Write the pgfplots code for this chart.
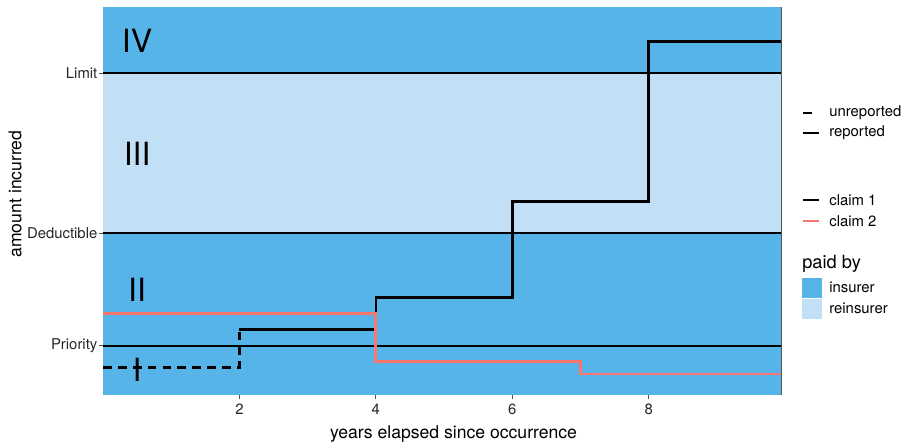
\documentclass[border=0pt]{standalone}
\usepackage{pgfplots}
\pgfplotsset{compat=1.18}
\usepackage{fontspec}
\setmainfont{TeX Gyre Heros}
\definecolor{insurer}{HTML}{56B4E9}
\definecolor{reinsurer}{HTML}{C2E0F5}
\definecolor{claimtwo}{HTML}{F8766D}
\definecolor{framegray}{HTML}{555555}
\definecolor{ticktext}{HTML}{262626}
\begin{document}
\begin{tikzpicture}
\path[use as bounding box] (0pt,0pt) rectangle (563.75pt,278.75pt);
\begin{axis}[
  at={(64.375pt,32.1875pt)}, anchor=south west,
  scale only axis, width=423.75pt, height=241.9pt,
  xmin=0, xmax=9.94, ymin=0, ymax=387,
  axis line style={framegray, line width=0.6pt},
  xtick={2,4,6,8},
  ytick={48.8,161.2,321.2},
  yticklabels={Priority,Deductible,Limit},
  tick align=outside, tick pos=left,
  major tick length=2.6pt,
  tick style={framegray, line width=0.6pt},
  ticklabel style={font=\fontsize{9.3}{11}\selectfont, text=ticktext},
  yticklabel style={xshift=2.6pt},
  /pgf/number format/assume math mode=true,
  clip=true,
]
% background bands
\addplot[fill=insurer, draw=none] coordinates {(0,0) (9.94,0) (9.94,387) (0,387)} -- cycle;
\addplot[fill=reinsurer, draw=none] coordinates {(0,161.2) (9.94,161.2) (9.94,321.2) (0,321.2)} -- cycle;
% reference lines
\addplot[black, line width=1.3pt] coordinates {(0,48.8) (9.94,48.8)};
\addplot[black, line width=1.3pt] coordinates {(0,161.2) (9.94,161.2)};
\addplot[black, line width=1.3pt] coordinates {(0,321.2) (9.94,321.2)};
% claim 1 unreported
\addplot[black, line width=1.6pt, const plot, dash pattern=on 5.5pt off 3.8pt] coordinates {(0,26.8) (2,65.2)};
% claim 1 reported
\addplot[black, line width=1.6pt, const plot] coordinates {(2,65.2) (4,97.2) (6,192.8) (8,352.8) (9.94,352.8)};
% claim 2 reported
\addplot[claimtwo, line width=1.8pt, const plot] coordinates {(0,81.2) (4,32.8) (7,20.5) (9.94,20.5)};
% layer labels
\node[font=\fontsize{20}{24}\selectfont] at (axis cs:0.5,24.4) {I};
\node[font=\fontsize{20}{24}\selectfont] at (axis cs:0.5,105) {II};
\node[font=\fontsize{20}{24}\selectfont] at (axis cs:0.5,241) {III};
\node[font=\fontsize{20}{24}\selectfont] at (axis cs:0.5,354) {IV};
\end{axis}
% titles and legend (pixel coordinates from top-left)
\begin{scope}[shift={(0pt,278.75pt)}, x=0.625pt, y=-0.625pt, font=\fontsize{9.3}{11}\selectfont]
\node[font=\fontsize{11}{13}\selectfont, inner sep=0pt] at (453.5,434) {years elapsed since occurrence};
\node[font=\fontsize{11}{13}\selectfont, inner sep=0pt, rotate=90] at (15,194) {amount incurred};
\draw[black, line width=1.6pt] (803,113) -- (812,113);
\node[anchor=west, inner sep=0pt] at (829,113) {unreported};
\draw[black, line width=1.6pt] (803,133) -- (819,133);
\node[anchor=west, inner sep=0pt] at (829,133) {reported};
\draw[black, line width=1.6pt] (803,200) -- (819,200);
\node[anchor=west, inner sep=0pt] at (829,200) {claim 1};
\draw[claimtwo, line width=1.8pt] (803,221) -- (819,221);
\node[anchor=west, inner sep=0pt] at (829,221) {claim 2};
\node[anchor=west, inner sep=0pt, font=\fontsize{11.4}{13}\selectfont] at (802,264) {paid by};
\fill[insurer] (802,278) rectangle (822,297.5);
\fill[reinsurer] (802,298.5) rectangle (822,319);
\node[anchor=west, inner sep=0pt] at (829,287.5) {insurer};
\node[anchor=west, inner sep=0pt] at (829,308.5) {reinsurer};
\end{scope}
\end{tikzpicture}
\end{document}
